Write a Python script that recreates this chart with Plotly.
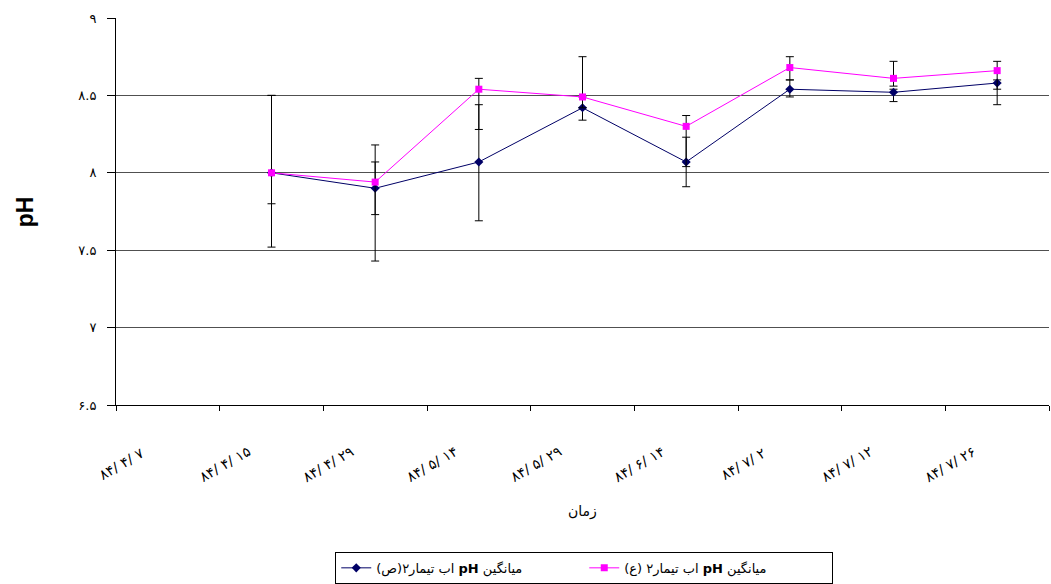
import plotly.graph_objects as go

# ---- data ----
categories = ['۸۴/ ۴/ ۷', '۸۴/ ۴/ ۱۵', '۸۴/ ۴/ ۲۹', '۸۴/ ۵/ ۱۴', '۸۴/ ۵/ ۲۹',
              '۸۴/ ۶/ ۱۴', '۸۴/ ۷/ ۲', '۸۴/ ۷/ ۱۲', '۸۴/ ۷/ ۲۶']
point_categories = categories[1:]

navy_name = 'میانگین <b>pH</b> اب تیمار۲(ص)'
pink_name = 'میانگین <b>pH</b> اب تیمار۲ (ع)'

navy_vals = [8.00, 7.90, 8.07, 8.42, 8.07, 8.54, 8.52, 8.58]
navy_plus = [0.50, 0.17, 0.37, 0.07, 0.16, 0.06, 0.02, 0.02]
navy_minus = [0.48, 0.47, 0.38, 0.08, 0.16, 0.05, 0.06, 0.14]

pink_vals = [8.00, 7.94, 8.54, 8.49, 8.30, 8.68, 8.61, 8.66]
pink_plus = [0.50, 0.24, 0.07, 0.26, 0.07, 0.07, 0.11, 0.06]
pink_minus = [0.20, 0.21, 0.26, 0.07, 0.26, 0.08, 0.05, 0.12]

y_tickvals = [6.5, 7, 7.5, 8, 8.5, 9]
y_ticktext = ['۶.۵', '۷', '۷.۵', '۸', '۸.۵', '۹']

x_title = 'زمان'
y_title = 'pH'

NAVY = '#000066'
PINK = '#FF00FF'
FONT = 'DejaVu Sans, Arial, sans-serif'

RLE, PDF = '\u202B', '\u202C'

fig = go.Figure()
fig.add_trace(go.Scatter(
    x=point_categories, y=navy_vals, mode='lines+markers',
    name=RLE + navy_name + PDF,
    line=dict(color=NAVY, width=1),
    marker=dict(symbol='diamond', size=7, color=NAVY),
    error_y=dict(type='data', symmetric=False, array=navy_plus, arrayminus=navy_minus,
                 color='black', thickness=1, width=4),
))
fig.add_trace(go.Scatter(
    x=point_categories, y=pink_vals, mode='lines+markers',
    name=RLE + pink_name + PDF,
    line=dict(color=PINK, width=1),
    marker=dict(symbol='square', size=7, color=PINK),
    error_y=dict(type='data', symmetric=False, array=pink_plus, arrayminus=pink_minus,
                 color='black', thickness=1, width=4),
))

annotations = []
for i, lab in enumerate(categories):
    annotations.append(dict(
        x=i - 0.5, xref='x', y=-0.152, yref='paper', text=lab, showarrow=False,
        textangle=-30, xanchor='center', yanchor='middle', xshift=5,
        font=dict(family=FONT, size=14, color='black')))
annotations.append(dict(x=0.5, xref='paper', y=-0.276, yref='paper', text=x_title,
                        showarrow=False, xanchor='center', yanchor='middle',
                        font=dict(family=FONT, size=14, color='black')))
annotations.append(dict(x=-0.0977, xref='paper', y=0.5, yref='paper', text='<b>' + y_title + '</b>',
                        showarrow=False, textangle=-90, xanchor='center', yanchor='middle',
                        font=dict(family='Liberation Sans, Arial, sans-serif', size=23, color='black')))

fig.update_layout(
    width=1051, height=584,
    margin=dict(l=116, r=2, t=18, b=178),
    paper_bgcolor='white', plot_bgcolor='white',
    showlegend=True,
    legend=dict(orientation='h', x=0.235, xanchor='left', y=-0.376, yanchor='top',
                bordercolor='black', borderwidth=1, bgcolor='white',
                font=dict(family=FONT, size=13, color='black'),
                itemwidth=30, entrywidth=203, entrywidthmode='pixels'),
    annotations=annotations,
    xaxis=dict(type='category', categoryorder='array', categoryarray=categories,
               range=[-0.5, 8.5], tickson='boundaries', ticks='outside', ticklen=5,
               tickcolor='black', showticklabels=False, showgrid=False,
               showline=True, linecolor='black', linewidth=1, zeroline=False),
    yaxis=dict(range=[6.5, 9], tickvals=y_tickvals, ticktext=y_ticktext,
               ticks='outside', ticklen=8, tickcolor='black', ticklabelstandoff=8,
               tickfont=dict(family=FONT, size=13, color='black'),
               showgrid=True, gridcolor='#505050', gridwidth=1,
               showline=True, linecolor='black', linewidth=1, zeroline=False),
)

fig.write_html('out.html')
